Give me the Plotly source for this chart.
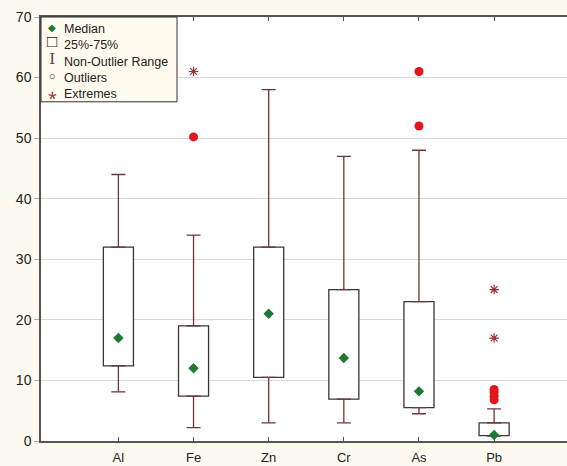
import plotly.graph_objects as go

categories = ["Al", "Fe", "Zn", "Cr", "As", "Pb"]
whisker_low = [8.1, 2.2, 3.0, 3.0, 4.5, 0.8]
q1 = [12.4, 7.4, 10.5, 6.9, 5.5, 0.9]
median = [17.0, 12.0, 21.0, 13.7, 8.2, 1.0]
q3 = [32.0, 19.0, 32.0, 25.0, 23.0, 3.0]
whisker_high = [44.0, 34.0, 58.0, 47.0, 48.0, 5.3]
outlier_cat = ["Fe", "As", "As", "Pb", "Pb", "Pb", "Pb"]
outlier_val = [50.2, 52.0, 61.0, 6.8, 7.4, 8.0, 8.5]
extreme_cat = ["Fe", "Pb", "Pb"]
extreme_val = [61.0, 17.0, 25.0]
y_ticks = [0, 10, 20, 30, 40, 50, 60, 70]
legend_labels = ["Median", "25%-75%", "Non-Outlier Range", "Outliers", "Extremes"]

BOX = "#3f3434"
WHISK = "#6e3636"
GREEN = "#1b7a32"
RED = "#e2161c"
DARKRED = "#9a2f35"
CREAM = "#fcfaef"

fig = go.Figure()

fig.add_trace(go.Bar(
    x=categories, y=[b - a for a, b in zip(q1, q3)], base=q1, width=0.4,
    marker=dict(color="white", line=dict(color=BOX, width=1.3)),
    showlegend=False, name="25%-75%"))

fig.add_trace(go.Scatter(
    x=categories, y=q3, mode="markers", marker=dict(size=1, opacity=0),
    error_y=dict(type="data", symmetric=False,
                 array=[h - t for h, t in zip(whisker_high, q3)],
                 arrayminus=[0] * len(q3), width=7, thickness=1.3, color=WHISK),
    showlegend=False, hoverinfo="skip"))

fig.add_trace(go.Scatter(
    x=categories, y=q1, mode="markers", marker=dict(size=1, opacity=0),
    error_y=dict(type="data", symmetric=False,
                 array=[0] * len(q1),
                 arrayminus=[b - l for b, l in zip(q1, whisker_low)],
                 width=7, thickness=1.3, color=WHISK),
    showlegend=False, hoverinfo="skip"))

fig.add_trace(go.Scatter(
    x=categories, y=median, mode="markers",
    marker=dict(symbol="diamond", size=8, color=GREEN),
    showlegend=False, name="Median"))

fig.add_trace(go.Scatter(
    x=outlier_cat, y=outlier_val, mode="markers",
    marker=dict(symbol="circle", size=9, color=RED),
    showlegend=False, name="Outliers"))

fig.add_trace(go.Scatter(
    x=extreme_cat, y=extreme_val, mode="markers",
    marker=dict(symbol="asterisk-open", size=8, color=DARKRED,
                line=dict(color=DARKRED, width=1.2)),
    showlegend=False, name="Extremes"))

# legend frame
fig.add_shape(type="rect", xref="paper", yref="paper",
              x0=0, x1=0.2586, y0=0.80, y1=1.0,
              line=dict(color="#333333", width=1), fillcolor="#fffbee",
              layer="above")

# legend text
fig.add_annotation(
    xref="paper", yref="paper", x=0.0, y=1.0, xanchor="left", yanchor="top",
    xshift=21, yshift=-3,
    text="<br>".join(legend_labels),
    showarrow=False, align="left",
    font=dict(family="Liberation Sans, Arial", size=12.5, color="#222222"))

# legend symbols column
symbols = [
    f"<span style='color:{GREEN};font-size:10px'>◆</span>",
    "<span style='font-size:17px'>□</span>",
    f"<span style='color:{WHISK};font-family:DejaVu Serif;font-size:15px'>I</span>",
    "<span style='font-size:11px'>○</span>",
    f"<span style='color:{DARKRED};font-size:16px'>⁎</span>",
]
fig.add_annotation(
    xref="paper", yref="paper", x=0.0, y=1.0, xanchor="center", yanchor="top",
    xshift=11, yshift=-3, text="<br>".join(symbols), showarrow=False, align="center",
    font=dict(family="Liberation Sans, Arial", size=12.5, color="#222222"))

fig.update_layout(
    width=567, height=466,
    margin=dict(l=41, r=0, t=17, b=25),
    paper_bgcolor=CREAM, plot_bgcolor="white",
    font=dict(family="Liberation Sans, Arial", size=13, color="#222222"),
    bargap=0.6,
)
fig.update_xaxes(
    type="category", range=[-1.03, 5.97], automargin=False,
    showline=True, linecolor="#555555", linewidth=1.5, mirror="ticks",
    ticks="inside", ticklen=4, tickcolor="#555555", showgrid=False,
    ticklabelstandoff=4,
    tickfont=dict(size=13))
fig.update_yaxes(
    range=[0, 70], tickvals=y_ticks, automargin=False,
    showline=True, linecolor="#555555", linewidth=1.5,
    ticks="outside", ticklen=5, tickcolor="#aaaaaa",
    showgrid=True, gridcolor="#d9d9d9", gridwidth=1, zeroline=False,
    tickfont=dict(size=14))

fig.write_html(
    "out.html",
    config={"displayModeBar": False},
    post_script="document.body.style.margin='0';document.body.style.background='#fcfaef';",
)
